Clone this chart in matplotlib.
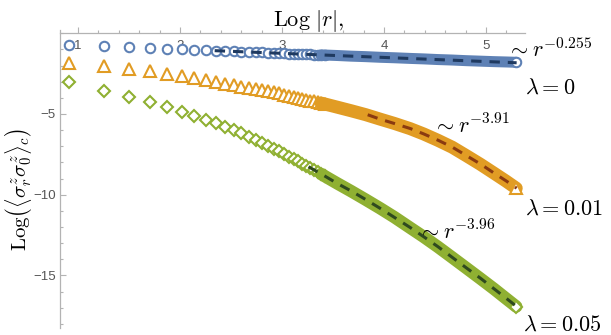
import numpy as np
import matplotlib.pyplot as plt
from matplotlib.ticker import MultipleLocator

plt.rcParams["mathtext.fontset"] = "cm"
plt.rcParams["font.family"] = ["Liberation Sans", "DejaVu Sans"]

# distances r (half-integer sites); markers are drawn individually for the near ones
r_near = [2.5, 3.5, 4.5, 5.5, 6.5, 7.5, 8.5, 9.5, 10.5, 11.5, 12.5, 13.5, 14.5, 15.5,
          16.5, 17.5, 18.5, 19.5, 20.5, 21.5, 22.5, 23.5, 24.5, 25.5, 26.5, 27.5,
          28.5, 29.5, 30.5]
r_far = [34.5, 39.5, 45.5, 52.5, 60.5, 70.5, 80.5, 92.5, 106.5, 122.5, 140.5,
         160.5, 180.5, 199.5]

# Log of the connected correlator for the three couplings
corr_l0_near = [-0.71, -0.77, -0.85, -0.91, -0.95, -0.98, -1.01, -1.04, -1.07, -1.09,
                -1.12, -1.14, -1.16, -1.18, -1.19, -1.21, -1.22, -1.23, -1.25, -1.26,
                -1.27, -1.28, -1.29, -1.30, -1.31, -1.32, -1.33, -1.34, -1.35]
corr_l0_far = [-1.38, -1.42, -1.45, -1.49, -1.52, -1.56, -1.59, -1.63, -1.66, -1.70,
               -1.73, -1.76, -1.78, -1.80]

corr_l001_near = [-1.82, -2.00, -2.20, -2.37, -2.53, -2.67, -2.80, -2.92, -3.03, -3.12,
                  -3.21, -3.30, -3.38, -3.46, -3.53, -3.60, -3.67, -3.73, -3.80, -3.87,
                  -3.93, -4.00, -4.06, -4.12, -4.17, -4.22, -4.27, -4.33, -4.38]
corr_l001_far = [-4.58, -4.80, -5.04, -5.32, -5.59, -5.91, -6.24, -6.63, -7.06, -7.59,
                 -8.12, -8.67, -9.16, -9.60]

corr_l005_near = [-3.04, -3.56, -3.93, -4.25, -4.57, -4.85, -5.10, -5.35, -5.58, -5.80,
                  -6.00, -6.20, -6.40, -6.60, -6.79, -6.98, -7.16, -7.32, -7.48, -7.65,
                  -7.80, -7.94, -8.08, -8.22, -8.35, -8.48, -8.61, -8.72, -8.85]
corr_l005_far = [-9.30, -9.78, -10.30, -10.84, -11.40, -12.05, -12.61, -13.23, -13.89,
                 -14.55, -15.20, -15.84, -16.43, -16.93]

# power-law fits (Log r, Log corr)
fit_l0_x = [2.34, 5.30]
fit_l0_y = [-1.08, -1.83]
fit_l001_x = [3.84, 3.96, 4.10, 4.26, 4.39, 4.53, 4.67, 4.81, 4.95, 5.08, 5.20, 5.30]
fit_l001_y = [-5.05, -5.32, -5.59, -5.91, -6.24, -6.63, -7.06, -7.59, -8.12, -8.67,
              -9.16, -9.60]
fit_l005_x = [3.26, 3.42, 3.54, 3.68, 3.82, 3.96, 4.10, 4.26, 4.39, 4.53, 4.67, 4.81,
              4.95, 5.08, 5.20, 5.30]
fit_l005_y = [-8.27, -8.85, -9.30, -9.78, -10.30, -10.84, -11.40, -12.05, -12.61,
              -13.23, -13.89, -14.55, -15.20, -15.84, -16.43, -16.93]

exponents = ["-0.255", "-3.91", "-3.96"]
lambdas = ["0", "0.01", "0.05"]

BLUE = "#5e81b5"
ORANGE = "#e19c24"
GREEN = "#8fb032"
AXIS_GRAY = "#b3b3b3"

fig = plt.figure(figsize=(6.11, 3.35), dpi=100)
ax = fig.add_axes([60 / 611, 7 / 335, 465 / 611, 298 / 335])
ax.set_xlim(0.8235, 5.382)
ax.set_ylim(-18.26, 0.2)

series = [
    (corr_l0_near, corr_l0_far, BLUE, "o", 6.8, 11, fit_l0_x, fit_l0_y, "#1f3a60"),
    (corr_l001_near, corr_l001_far, ORANGE, "^", 8.4, 13, fit_l001_x, fit_l001_y, "#8a3a10"),
    (corr_l005_near, corr_l005_far, GREEN, "D", 6.2, 12.5, fit_l005_x, fit_l005_y, "#2f4a1f"),
]

x_near = np.log(r_near)
x_all = np.log(r_near + r_far)
for near, far, color, marker, ms, band_px, fx, fy, dark in series:
    y_all = np.array(near + far)
    ax.plot(x_near, near, linestyle="none", marker=marker, ms=ms, mew=1.5,
            mfc="white", mec=color, zorder=3, clip_on=False)
    # the far points sit so close together that the markers merge into a band
    start = len(near) - 2
    ax.plot(x_all[start:], y_all[start:], color=color, lw=band_px * 0.72,
            solid_capstyle="round", zorder=4, clip_on=False)
    ax.plot(x_all[-1], y_all[-1], linestyle="none", marker=marker, ms=ms, mew=1.5,
            mfc="white", mec=color, zorder=5, clip_on=False)
    ax.plot(fx, fy, color=dark, lw=2.2, linestyle=(0, (3.4, 2.6)), zorder=6)

# annotations
ann_style = dict(fontsize=16, ha="left", va="baseline", clip_on=False, zorder=7)
ax.text(5.206, -1.47, r"$\sim r^{%s}$" % exponents[0], **ann_style)
ax.text(4.48, -6.2, r"$\sim r^{%s}$" % exponents[1], **ann_style)
ax.text(4.333, -12.75, r"$\sim r^{%s}$" % exponents[2], **ann_style)
ax.text(5.382, -3.76, r"$\lambda = %s$" % lambdas[0], **ann_style)
ax.text(5.382, -11.26, r"$\lambda = %s$" % lambdas[1], **ann_style)
ax.text(5.363, -18.42, r"$\lambda = %s$" % lambdas[2], **ann_style)

# Mathematica-like axes crossing at y = 0
for side in ("top", "right"):
    ax.spines[side].set_visible(False)
ax.spines["bottom"].set_position(("data", 0))
for side in ("bottom", "left"):
    ax.spines[side].set_color(AXIS_GRAY)
    ax.spines[side].set_linewidth(0.9)

ax.set_xticks([1, 2, 3, 4, 5])
ax.xaxis.set_minor_locator(MultipleLocator(0.2))
ax.set_yticks([-15, -10, -5])
ax.yaxis.set_minor_locator(MultipleLocator(1))
ax.tick_params(which="both", direction="in", color=AXIS_GRAY, labelcolor="#555555",
               labelsize=9.5, width=0.8)
ax.tick_params(which="major", length=4)
ax.tick_params(which="minor", length=2.5)
ax.tick_params(axis="x", pad=5)
ax.tick_params(axis="y", pad=3)

fig.text(273 / 611, 1 - 26 / 335, r"$\mathrm{Log}\ |r|,$", fontsize=16,
         ha="left", va="baseline")
fig.text(18 / 611, 1 - 190 / 335,
         r"$\mathrm{Log}\left(\langle\sigma^z_r\sigma^z_0\rangle_c\right)$",
         fontsize=15, rotation=90, ha="center", va="center")

fig.savefig("out.png", dpi=100)
